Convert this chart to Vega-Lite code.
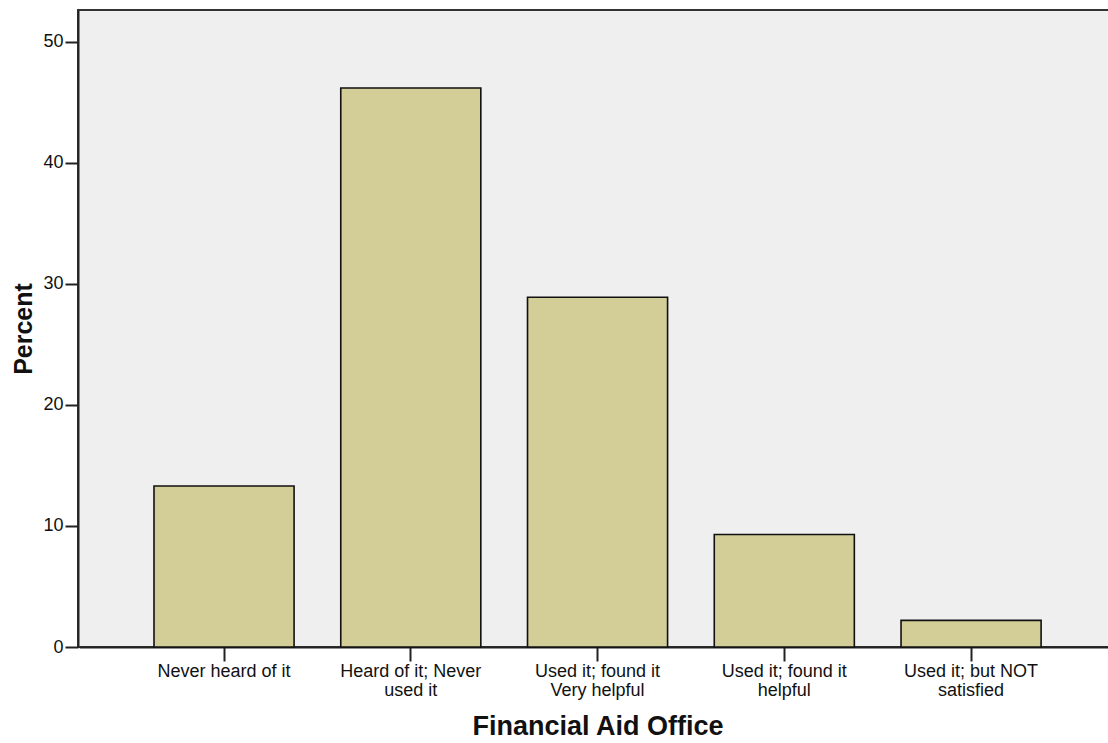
{
  "$schema": "https://vega.github.io/schema/vega-lite/v6.json",
  "autosize": {"type": "none"},
  "width": 1032,
  "height": 637,
  "padding": {"left": 78, "top": 10, "right": 0, "bottom": 96},
  "background": "white",
  "config": {
    "view": {"fill": "#efefef", "stroke": "#333333", "strokeWidth": 2},
    "font": "Liberation Sans"
  },
  "data": {
    "values": [
      {"category": "Never heard of it", "percent": 13.3},
      {"category": "Heard of it; Never used it", "percent": 46.2},
      {"category": "Used it; found it Very helpful", "percent": 28.9},
      {"category": "Used it; found it helpful", "percent": 9.3},
      {"category": "Used it; but NOT satisfied", "percent": 2.2}
    ]
  },
  "mark": {"type": "bar", "fill": "#d3cd98", "stroke": "#111111", "strokeWidth": 1.6},
  "encoding": {
    "x": {
      "field": "category",
      "type": "nominal",
      "sort": null,
      "scale": {"range": [1.3, 1037.8], "paddingInner": 0.25, "paddingOuter": 0.4},
      "axis": {
        "title": "Financial Aid Office",
        "titleFont": "Liberation Sans",
        "titleFontSize": 27,
        "titleFontWeight": "bold",
        "titleColor": "#111111",
        "titlePadding": 14,
        "labelAngle": 0,
        "labelFontSize": 18,
        "labelColor": "#111111",
        "labelLineHeight": 19,
        "labelPadding": 1,
        "tickSize": 14,
        "tickColor": "#222222",
        "tickWidth": 2,
        "domainColor": "#222222",
        "domainWidth": 2,
        "labelExpr": "datum.label == 'Heard of it; Never used it' ? ['Heard of it; Never', 'used it'] : datum.label == 'Used it; found it Very helpful' ? ['Used it; found it', 'Very helpful'] : datum.label == 'Used it; found it helpful' ? ['Used it; found it', 'helpful'] : datum.label == 'Used it; but NOT satisfied' ? ['Used it; but NOT', 'satisfied'] : datum.label"
      }
    },
    "y": {
      "field": "percent",
      "type": "quantitative",
      "scale": {"domain": [0, 52.64], "nice": false, "zero": true},
      "axis": {
        "title": "Percent",
        "titleFontSize": 25,
        "titleFontWeight": "bold",
        "titleColor": "#111111",
        "titlePadding": 6,
        "values": [0, 10, 20, 30, 40, 50],
        "grid": false,
        "labelFontSize": 18,
        "labelColor": "#111111",
        "labelPadding": 2,
        "tickSize": 13,
        "tickColor": "#222222",
        "tickWidth": 2,
        "domainColor": "#222222",
        "domainWidth": 2
      }
    }
  }
}
